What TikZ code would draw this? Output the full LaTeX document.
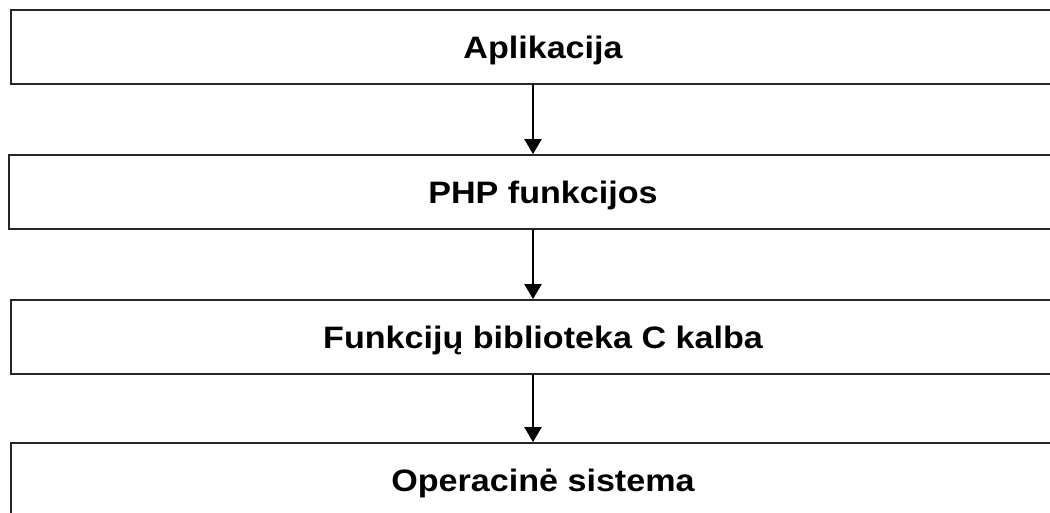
\documentclass[tikz,border=0pt]{standalone}
\usepackage{fontspec}
\setmainfont{Liberation Sans}[FakeStretch=1.1]
\usetikzlibrary{arrows.meta,calc}
\tikzset{
  layer/.style={draw=black!85, line width=1.8pt, fill=white, rectangle,
    minimum width=1064pt, minimum height=74pt, inner sep=0pt,
    text height=22pt, text depth=0pt,
    font=\bfseries\fontsize{31}{37}\selectfont},
  flow/.style={line width=2.2pt, -{Triangle[width=17pt,length=15pt]}}
}
\begin{document}
\begin{tikzpicture}[x=1pt,y=-1pt]
  \useasboundingbox (0,0) rectangle (1050,512);
  \clip (0,0) rectangle (1050,512);
  % stacked layers, top to bottom
  \node[layer] (app) at (543,47)  {Aplikacija};
  \node[layer, minimum width=1068pt] (php) at (543,192) {PHP funkcijos};
  \node[layer] (clib) at (543,337) {Funkcijų biblioteka C kalba};
  \node[layer] (os) at (543,480)  {Operacinė sistema};
  % column of the arrows
  \coordinate (ax) at (533,0);
  \draw[flow] (app.south -| ax) -- (php.north -| ax);
  \draw[flow] (php.south -| ax) -- (clib.north -| ax);
  \draw[flow] (clib.south -| ax) -- (os.north -| ax);
\end{tikzpicture}
\end{document}
